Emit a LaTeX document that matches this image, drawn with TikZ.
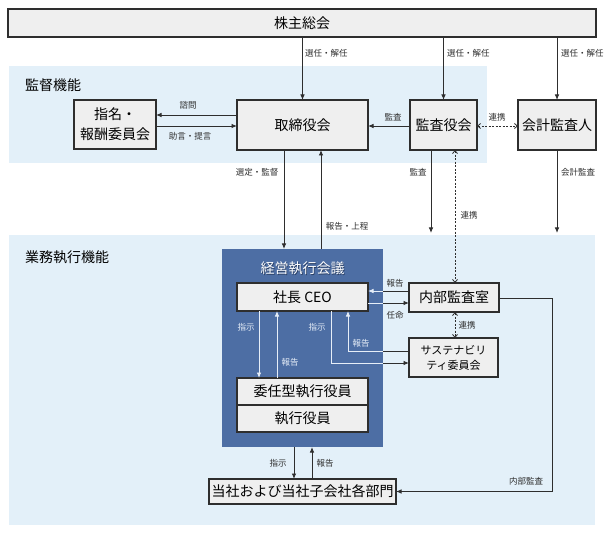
\documentclass[tikz,border=0pt]{standalone}
\usepackage{fontspec}
\setmainfont{Noto Sans CJK JP}
\usetikzlibrary{arrows.meta}
\definecolor{band}{HTML}{E3F0F9}
\definecolor{boxfill}{HTML}{EFEFEF}
\definecolor{execblue}{HTML}{4D6EA4}
\definecolor{lineg}{HTML}{2E2E2E}
\definecolor{paleline}{HTML}{E6EEF8}
\definecolor{titleshadow}{HTML}{2A3E62}
\begin{document}
\begin{tikzpicture}[x=1pt,y=-1pt,
  every node/.style={inner sep=0pt, outer sep=0pt},
  box/.style={draw=lineg, line width=1.1pt, fill=boxfill, font=\fontsize{14}{20}\selectfont, align=center, text=black},
  lbl/.style={font=\fontsize{8.5}{9}\selectfont, text=lineg},
  wlbl/.style={font=\fontsize{8.5}{9}\selectfont, text=paleline},
  arr/.style={draw=lineg, line width=0.9pt, -{Latex[length=5.5pt,width=4.5pt]}},
  warr/.style={draw=paleline, line width=0.9pt, -{Latex[length=5.5pt,width=4.5pt]}},
  dline/.style={draw=lineg, line width=0.9pt},
  wline/.style={draw=paleline, line width=0.9pt},
  darr/.style={draw=lineg, line width=0.8pt, dash pattern=on 2pt off 1.5pt,
    {Straight Barb[length=3pt,width=5pt]}-{Straight Barb[length=3pt,width=5pt]}},
]
\useasboundingbox (0,0) rectangle (604,534);
\fill[white] (0,0) rectangle (604,534);
\fill[band] (9,66) rectangle (487,163);
\fill[band] (9,235) rectangle (595,525);
\node[font=\fontsize{14}{16}\selectfont, anchor=west] (lab1) at (25,85) {監督機能};
\node[font=\fontsize{14}{16}\selectfont, anchor=west] (lab2) at (25,257) {業務執行機能};

% helper coordinates
\coordinate (y115) at (0,115);
\coordinate (y126) at (0,126);
\coordinate (y233) at (0,233);
\coordinate (y291) at (0,291);
\coordinate (y303) at (0,303);
\coordinate (y351) at (0,351);
\coordinate (y363) at (0,363);
\coordinate (y298) at (0,298);
\coordinate (x259) at (259,0);
\coordinate (x277) at (277,0);
\coordinate (x284) at (284,0);
\coordinate (x321) at (321,0);
\coordinate (x331) at (331,0);
\coordinate (x348) at (348,0);
\coordinate (x431) at (431,0);
\coordinate (x455) at (455,0);
\coordinate (x294) at (294,0);
\coordinate (x312) at (312,0);
\coordinate (x552) at (552,0);

% boxes
\node[box, minimum width=588pt, minimum height=28pt] (sh) at (302,23) {株主総会};
\node[box, minimum width=82pt, minimum height=49pt] (nom) at (115,124.5) {指名・\\報酬委員会};
\node[box, minimum width=131pt, minimum height=50pt] (bod) at (302.5,125) {取締役会};
\node[box, minimum width=67pt, minimum height=50pt] (kan) at (443.5,125) {監査役会};
\node[box, minimum width=78pt, minimum height=50pt] (kai) at (557,125) {会計監査人};

\node[fill=execblue, minimum width=161pt, minimum height=198pt] (exec) at (302.5,348) {};
\node[font=\fontsize{14}{16}\selectfont, text=titleshadow] (titles) at (303.4,268.9) {経営執行会議};
\node[font=\fontsize{14}{16}\selectfont, text=white] (title) at (302.5,268) {経営執行会議};
\node[box, minimum width=131pt, minimum height=28pt] (ceo) at (302.5,297) {社長 CEO};
\node[box, minimum width=131pt, minimum height=27pt] (inin) at (302.5,391.5) {委任型執行役員};
\node[box, minimum width=131pt, minimum height=27pt] (shik) at (302.5,418.5) {執行役員};
\node[box, minimum width=90pt, minimum height=29pt] (naibu) at (454,297.5) {内部監査室};
\node[box, font=\fontsize{11}{15}\selectfont, minimum width=89pt, minimum height=39pt] (sus) at (453.5,357.5) {サステナビリ\\ティ委員会};
\node[box, minimum width=187pt, minimum height=25pt] (touha) at (302.5,491.5) {当社および当社子会社各部門};

% shareholders
\draw[arr] (sh.south -| bod.north) -- (bod.north);
\draw[arr] (sh.south -| kan.north) -- (kan.north);
\draw[arr] (sh.south -| kai.north) -- (kai.north);
\node[lbl, anchor=west] (s1) at (305,53) {選任・解任};
\node[lbl, anchor=west] (s2) at (447,53) {選任・解任};
\node[lbl, anchor=west] (s3) at (561,53) {選任・解任};

% supervisory
\draw[arr] (bod.west |- y115) -- (nom.east |- y115);
\draw[arr] (nom.east |- y126) -- (bod.west |- y126);
\node[lbl] (l_shimon) at (188,105) {諮問};
\node[lbl] (l_jogen) at (190,136) {助言・提言};
\draw[arr] (kan.west |- y126) -- (bod.east |- y126);
\node[lbl] (l_kansa1) at (393,117) {監査};
\draw[darr] (kan.east |- y126) -- (kai.west |- y126);
\node[lbl] (l_renkei1) at (497,117) {連携};

% board to exec
\draw[arr] (bod.south -| x284) -- (exec.north -| x284);
\node[lbl] (l_sentei) at (257,172) {選定・監督};
\draw[arr] (exec.north -| x321) -- (bod.south -| x321);
\node[lbl] (l_hokoku0) at (347,226) {報告・上程};
\draw[arr] (kan.south -| x431) -- (x431 |- y233);
\node[lbl] (l_kansa2) at (418,172) {監査};
\draw[darr] (kan.south -| x455) -- (naibu.north -| x455);
\node[lbl] (l_renkei2) at (469,215) {連携};
\draw[arr] (kai.south) -- (kai.south |- y233);
\node[lbl] (l_kaikei) at (578,172) {会計監査};

% CEO <-> internal audit
\draw[dline] (naibu.west |- y291) -- (exec.east |- y291);
\draw[warr] (exec.east |- y291) -- (ceo.east |- y291);
\node[lbl] (l_hokoku1) at (395,283) {報告};
\draw[wline] (ceo.east |- y303) -- (exec.east |- y303);
\draw[arr] (exec.east |- y303) -- (naibu.west |- y303);
\node[lbl] (l_ninmei) at (395,315) {任命};
\draw[darr] (naibu.south -| x455) -- (sus.north -| x455);
\node[lbl] (l_renkei3) at (467,325) {連携};

% CEO <-> executives
\draw[warr] (ceo.south -| x259) -- (inin.north -| x259);
\node[wlbl] (l_shiji1) at (246,327) {指示};
\draw[warr] (inin.north -| x277) -- (ceo.south -| x277);
\node[wlbl] (l_hokoku2) at (290,362) {報告};

% CEO <-> sustainability
\draw[wline] (ceo.south -| x331) -- (x331 |- y363) -- (exec.east |- y363);
\draw[arr] (exec.east |- y363) -- (sus.west |- y363);
\node[wlbl] (l_shiji2) at (317,327) {指示};
\draw[dline] (sus.west |- y351) -- (exec.east |- y351);
\draw[warr] (exec.east |- y351) -- (x348 |- y351) -- (ceo.south -| x348);
\node[wlbl] (l_hokoku3) at (361,343) {報告};

% exec <-> departments
\draw[arr] (exec.south -| x294) -- (touha.north -| x294);
\node[lbl] (l_shiji3) at (278,463) {指示};
\draw[arr] (touha.north -| x312) -- (exec.south -| x312);
\node[lbl] (l_hokoku4) at (325,463) {報告};

% internal audit loop
\draw[arr] (naibu.east |- y298) -- (x552 |- y298) -- (x552 |- touha.east) -- (touha.east);
\node[lbl] (l_naibu) at (526,481) {内部監査};
\end{tikzpicture}
\end{document}
